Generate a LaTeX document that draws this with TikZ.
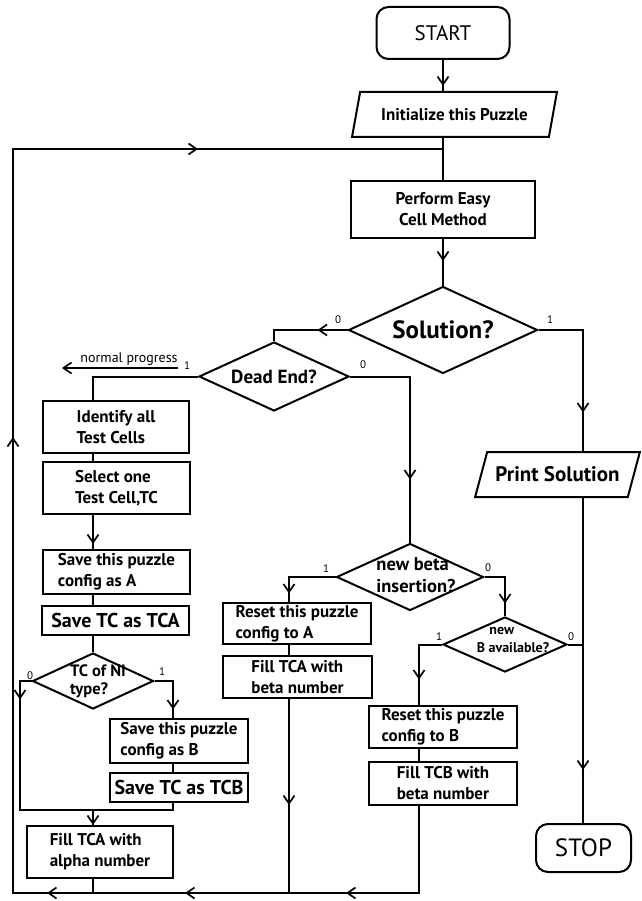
\documentclass[tikz,border=0pt]{standalone}
\usepackage{fontspec}
\setmainfont{PT Sans}
\usetikzlibrary{shapes.geometric,arrows.meta,decorations.markings}

\newcommand{\boxfont}{\fontsize{17}{21}\selectfont\bfseries}
\newcommand{\bigbold}[1]{\fontsize{#1}{#1}\selectfont\bfseries}

\tikzset{
  terminal/.style={draw, rectangle, rounded corners=12pt, font=\fontsize{21}{25}\selectfont},
  process/.style={draw, rectangle, align=left, inner sep=2pt, font=\boxfont},
  io/.style={draw, trapezium, trapezium stretches=true, inner sep=1pt, font=\boxfont},
  decision/.style={draw, diamond, inner sep=0pt},
  question/.style={align=left, inner sep=0pt, font=\boxfont},
  flag/.style={inner sep=0pt, font=\fontsize{11}{13}\selectfont},
  link/.style={draw, line width=2pt},
  vtip/.tip={Straight Barb[length=8pt, width=11pt, line width=1.7pt]},
  midtip/.style={postaction={decorate, decoration={markings,
      mark=at position #1 with {\arrow{vtip}}}}}
}

\begin{document}
\begin{tikzpicture}[x=1pt, y=-1pt, line width=2pt]
  \useasboundingbox (0,0) rectangle (641,901);

  % main column
  \node[terminal, minimum width=133pt, minimum height=52pt] (start) at (443,33) {START};
  \node[io, trapezium left angle=66, trapezium right angle=114,
        minimum width=205pt, minimum height=45pt] (init) at (454.5,114.5) {Initialize this Puzzle};
  \node[process, align=center, minimum width=184pt, minimum height=57pt] (perform) at (443,209.5) {Perform Easy\\Cell Method};
  \node[decision, minimum width=189pt, minimum height=87pt] (sol) at (443,330) {};
  \node[question, font=\bigbold{25}] (solq) at (sol.center) {Solution?};
  \node[decision, minimum width=150pt, minimum height=69pt] (dead) at (274,376.5) {};
  \node[question, font=\bigbold{19}] (deadq) at (dead.center) {Dead End?};
  \node[io, trapezium left angle=58, trapezium right angle=122, font=\bigbold{21},
        minimum width=165pt, minimum height=45pt] (print) at (557.5,474.5) {Print Solution};
  \node[terminal, minimum width=95pt, minimum height=48pt, font=\fontsize{25}{30}\selectfont] (stop) at (583.5,848) {STOP};

  % left column
  \node[process, minimum width=146pt, minimum height=52pt] (ident) at (116,427) {Identify all\\Test Cells};
  \node[process, minimum width=147pt, minimum height=52pt] (select) at (116.5,488) {Select one\\Test Cell,TC};
  \node[process, minimum width=147pt, minimum height=44pt] (saveA) at (116.5,572) {Save this puzzle\\config as A};
  \node[process, minimum width=147pt, minimum height=29pt, font=\bigbold{20}] (saveTCA) at (115.5,620.5) {Save TC as TCA};
  \node[decision, minimum width=121pt, minimum height=56pt] (tcni) at (93,681) {};
  \node[question, font=\fontsize{16.5}{18}\selectfont\bfseries] (tcniq) at (98,681) {TC of NI\\type?};
  \node[process, minimum width=138pt, minimum height=44pt] (saveB) at (179,741) {Save this puzzle\\config as B};
  \node[process, minimum width=138pt, minimum height=29pt, font=\bigbold{20}] (saveTCB) at (179,787.5) {Save TC as TCB};
  \node[process, minimum width=146pt, minimum height=52pt] (fillA) at (100,852) {Fill TCA with\\alpha number};

  % middle columns
  \node[decision, minimum width=147pt, minimum height=67pt] (beta) at (410,577) {};
  \node[question, font=\fontsize{18.5}{22}\selectfont\bfseries] (betaq) at (416,575) {new beta\\insertion?};
  \node[process, minimum width=148pt, minimum height=41pt] (resetA) at (297,623.5) {Reset this puzzle\\config to A};
  \node[process, minimum width=149pt, minimum height=42pt] (fillTA) at (297.5,677) {Fill TCA with\\beta number};
  \node[decision, minimum width=124pt, minimum height=55pt] (newB) at (505,644.5) {};
  \node[question, font=\fontsize{14}{18}\selectfont\bfseries] (newBq) at (513,640) {\hspace*{0.9em}new\\B available?};
  \node[process, minimum width=148pt, minimum height=42pt] (resetB) at (443,727) {Reset this puzzle\\config to B};
  \node[process, minimum width=148pt, minimum height=43pt] (fillB) at (443,783.5) {Fill TCB with\\beta number};

  % helper points
  \coordinate (join) at (443,149);
  \coordinate (corner) at (13,893);
  \coordinate (mergeL) at (20,810);
  \coordinate (colA) at (93,0);
  \coordinate (colB) at (173,0);
  \coordinate (colC) at (289,0);
  \coordinate (colD) at (419,0);
  \coordinate (colE) at (583,0);
  \coordinate (npA) at (178,368);
  \coordinate (npB) at (62,368);

  % connectors
  \draw[link, midtip=26pt] (start.south) -- (start.south |- init.north);
  \draw[link] (init.south -| start) -- (perform.north);
  \draw[link, midtip=22pt] (perform.south) -- (sol.north);
  \draw[link, midtip=30pt] (sol.west) -| (dead.north);
  \draw[link, midtip=127pt] (sol.east) -| (print.north -| colE);
  \draw[link, midtip=272pt] (print.south -| colE) -- (stop.north -| colE);
  \draw[link, midtip=163pt] (dead.east) -| (beta.north);
  \draw[link] (dead.west) -| (ident.north -| colA);
  \draw[link, -vtip] (npA) -- (npB);
  \node[inner sep=0pt, font=\fontsize{14}{16}\selectfont] (nptext) at (129,359) {normal progress};

  \draw[link] (ident.south -| colA) -- (select.north -| colA);
  \draw[link, midtip=29pt] (select.south -| colA) -- (saveA.north -| colA);
  \draw[link] (saveA.south -| colA) -- (saveTCA.north -| colA);
  \draw[link] (saveTCA.south -| colA) -- (tcni.north);
  \draw[link, midtip=30pt] (tcni.west) -| (mergeL) -- (mergeL -| colB) -- (saveTCB.south -| colB);
  \draw[link, midtip=47pt] (tcni.east) -| (saveB.north -| colB);
  \draw[link] (saveB.south -| colB) -- (saveTCB.north -| colB);
  \draw[link, midtip=15pt] (mergeL -| colA) -- (fillA.north -| colA);
  \draw[link] (fillA.south -| colA) -- (corner -| colA);

  \draw[link, midtip=63pt] (beta.west) -| (resetA.north -| colC);
  \draw[link] (resetA.south -| colC) -- (fillTA.north -| colC);
  \draw[link, midtip=106pt] (fillTA.south -| colC) -- (corner -| colC);
  \draw[link, midtip=47pt] (beta.east) -| (newB.north);
  \draw[link, midtip=58pt] (newB.west) -| (resetB.north -| colD);
  \draw[link] (resetB.south -| colD) -- (fillB.north -| colD);
  \draw[link] (newB.east) -- (newB.east -| colE);

  % back to the start
  \draw[link, midtip=160pt, midtip=321pt, midtip=459pt, midtip=949pt, midtip=1422pt]
    (fillB.south -| colD) |- (corner) -- (corner |- join) -- (join);

  % branch flags
  \node[flag] (sol0) at (338,320) {0};
  \node[flag] (sol1) at (550,320) {1};
  \node[flag] (dead0) at (363,365) {0};
  \node[flag] (dead1) at (187,366) {1};
  \node[flag] (tcni0) at (30,676) {0};
  \node[flag] (tcni1) at (162,672) {1};
  \node[flag] (beta1) at (326,569) {1};
  \node[flag] (beta0) at (488,568) {0};
  \node[flag] (newB1) at (439,637) {1};
  \node[flag] (newB0) at (571,637) {0};
\end{tikzpicture}
\end{document}
